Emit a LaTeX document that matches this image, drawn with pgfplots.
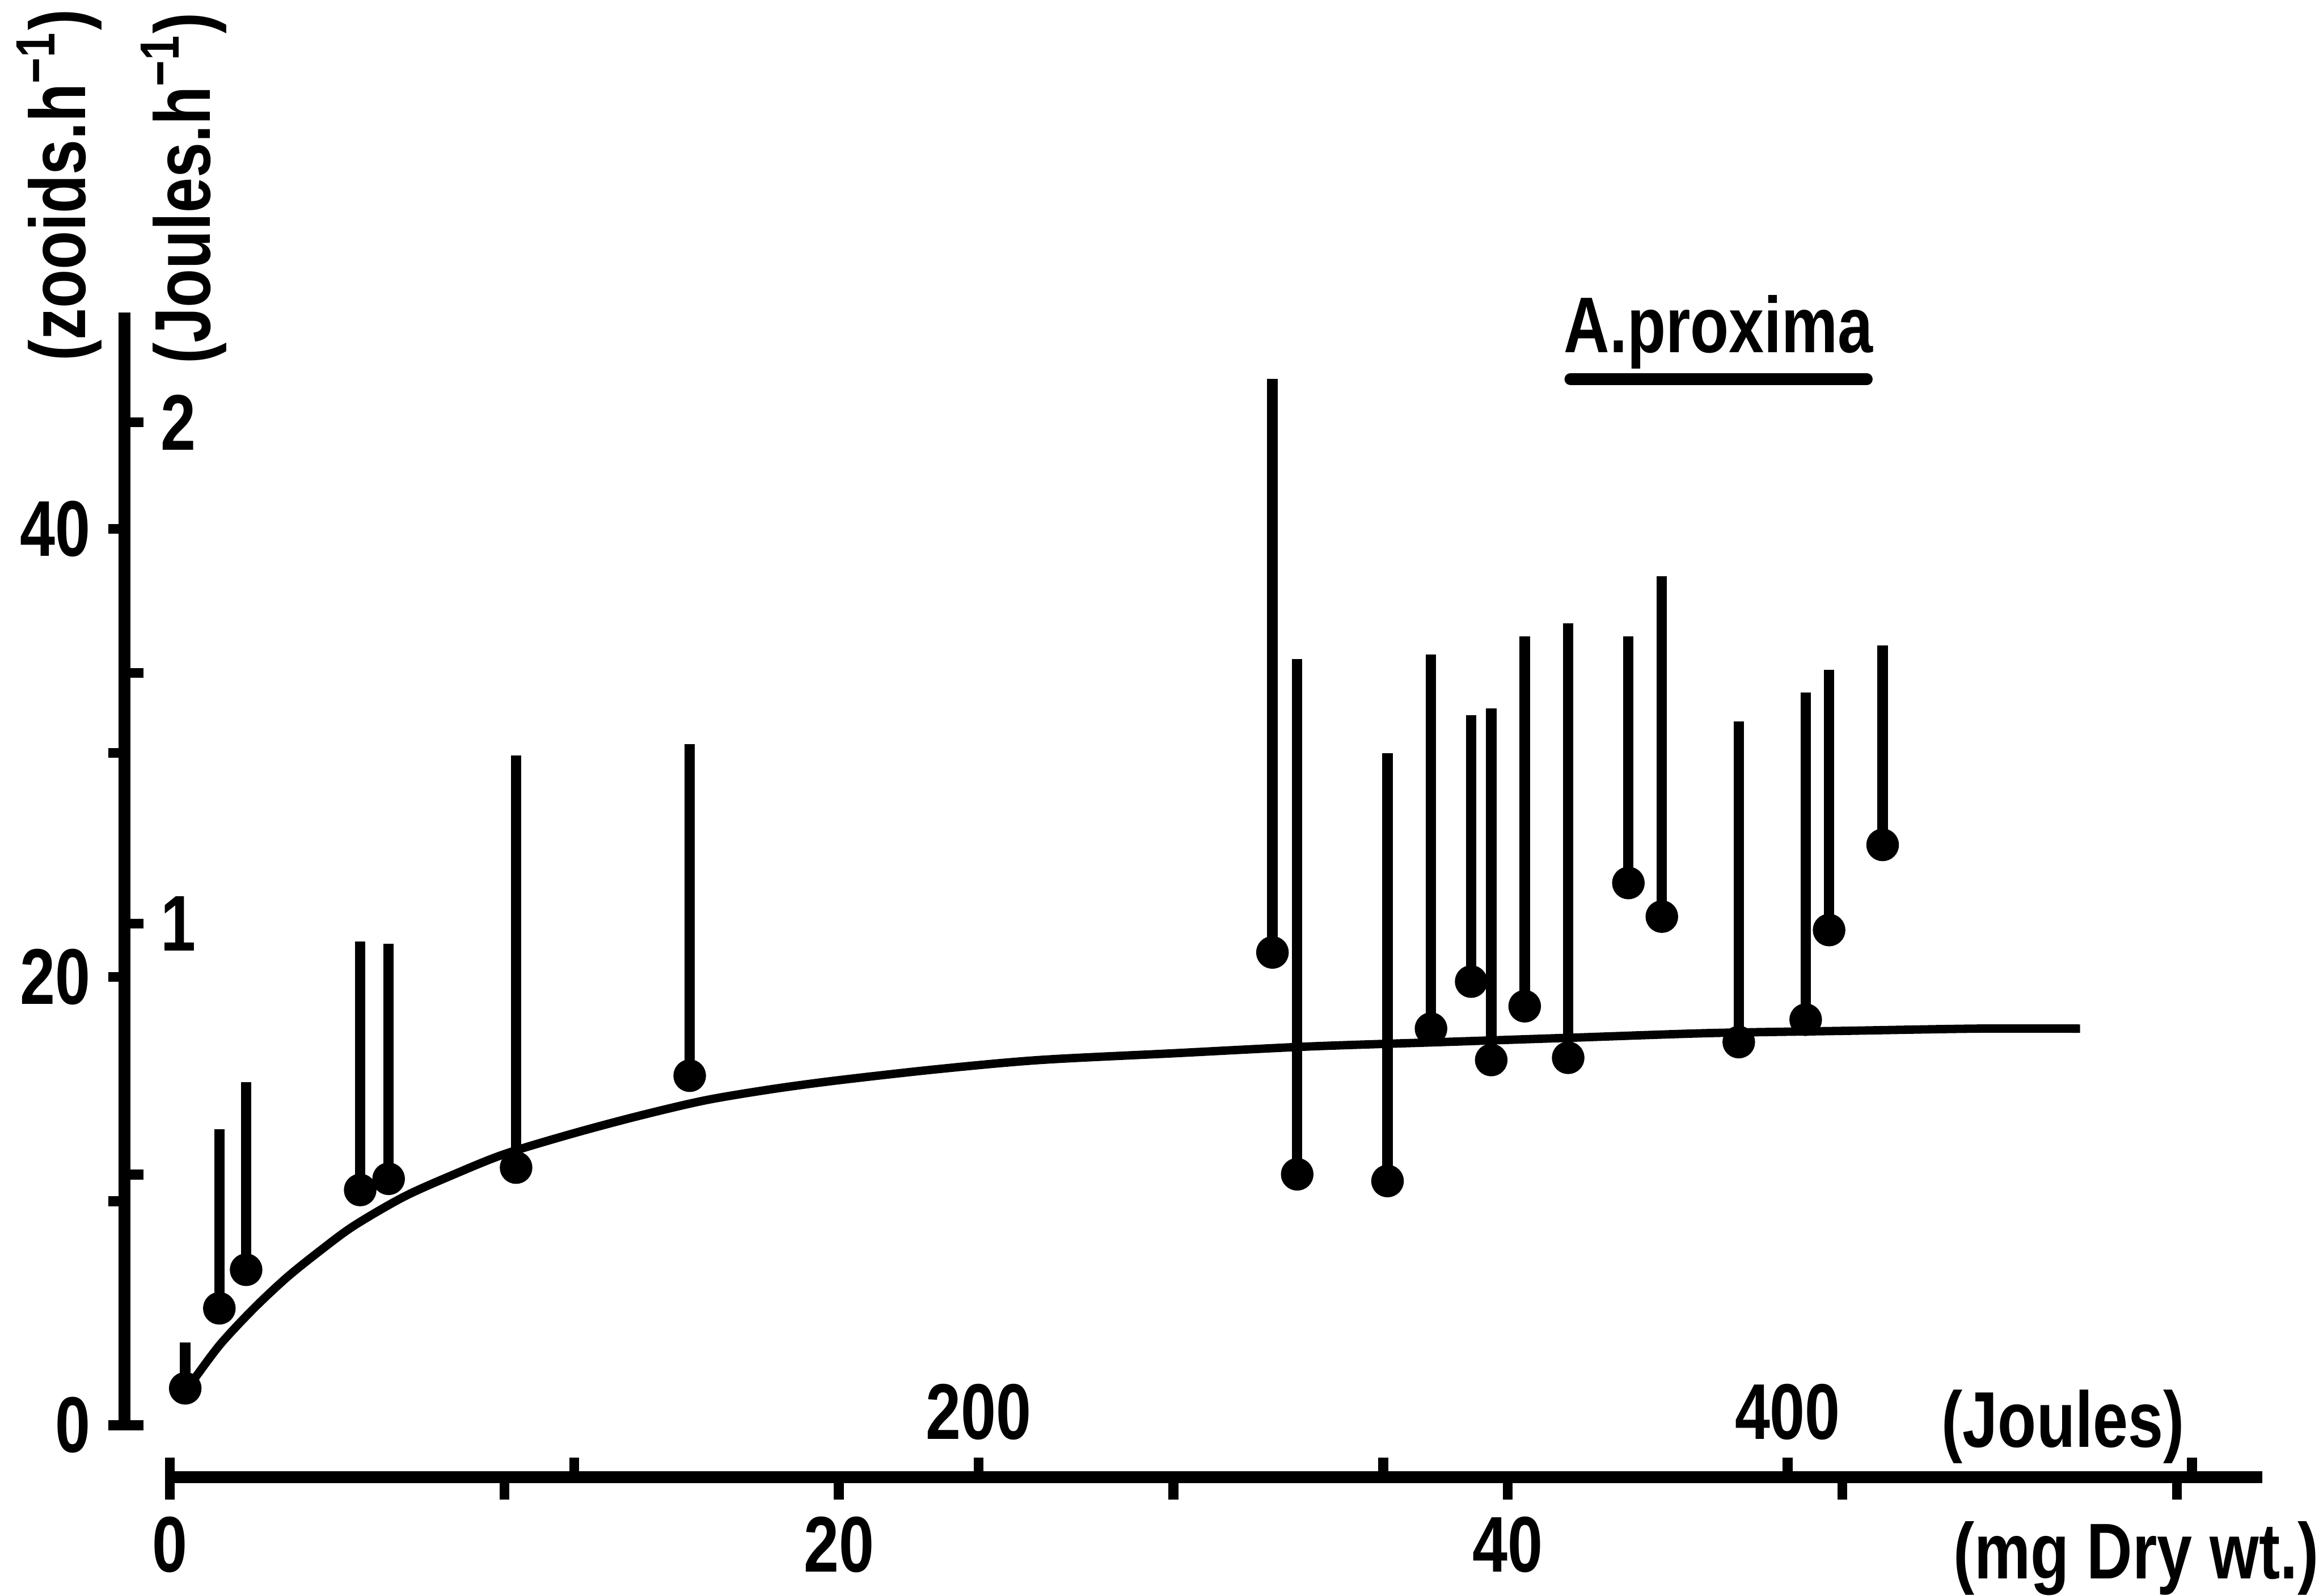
\documentclass[border=0pt]{standalone}
\usepackage{fontspec}
\setmainfont{Liberation Sans}[FakeStretch=0.8, UprightFont=*-Bold]
\usepackage{pgfplots}
\usepackage{pgfplotstable}
\pgfplotsset{compat=1.18}
\pgfplotstableread{
x lo hi
0.46 1.65 3.7
1.48 5.22 13.2
2.28 6.94 15.3
5.69 10.5 21.6
6.54 11.0 21.5
10.35 11.5 29.9
15.54 15.6 30.4
32.96 21.1 46.7
33.7 11.2 34.2
36.4 10.9 30.0
37.7 17.7 34.4
38.9 19.8 31.7
39.5 16.3 32.0
40.5 18.7 35.2
41.8 16.4 35.8
43.6 24.2 35.2
44.6 22.7 37.9
46.9 17.1 31.4
48.9 18.1 32.7
49.6 22.1 33.7
51.2 25.9 34.8
}\pts
\pgfplotsset{
  every axis/.append style={
    scale only axis, clip=false,
    /pgf/number format/assume math mode=true,
    ticklabel style={font=\fontsize{16}{18}\selectfont},
    axis line style={line width=2.4pt, black},
    tick style={line width=2pt, black},
  }
}
\begin{document}
\begin{tikzpicture}
\useasboundingbox (0pt,0pt) rectangle (470.4pt,-323.1pt);
% zooids axis + data
\begin{axis}[at={(25.2pt,-288.6pt)}, anchor=south west,
  x=6.774pt, y=4.5375pt, xmin=-1.357, xmax=62.5, ymin=0, ymax=49.65,
  axis x line=none, axis y line*=left,
  ytick={0,10,20,30,40}, yticklabels={0,,20,,40},
  ytick pos=left, yticklabel pos=left,
  tick align=outside, major tick length=3.3pt]
\addplot[black, line width=1.7pt, smooth, no marks] coordinates {
(0.7,2.0) (1.5,3.6) (2.5,5.2) (3.5,6.6) (4.5,7.8) (5.5,8.9) (7,10.2) (8.5,11.2)
(10,12.1) (12,13.0) (14,13.8) (16,14.5) (18,15.0) (20,15.4) (23,15.9) (26,16.3)
(30,16.6) (34,16.9) (38,17.1) (42,17.3) (46,17.5) (50,17.6) (54,17.7) (57.1,17.7)};
\addplot[black, only marks, mark=*, mark size=3.1pt,
  error bars/.cd, y dir=plus, y explicit, error mark=none,
  error bar style={line width=2.1pt, black}]
  table[x=x, y=lo, y error expr=\thisrow{hi}-\thisrow{lo}] {\pts};
\end{axis}
% Joules.h-1 axis
\begin{axis}[at={(25.2pt,-288.6pt)}, anchor=south east,
  x=1pt, xmin=0, xmax=1, y=101.55pt, ymin=0, ymax=2.2186,
  axis x line=none, axis y line*=right,
  ytick={0,0.5,1,1.5,2}, yticklabels={,,1,,2},
  ytick pos=right, yticklabel pos=right,
  tick align=outside, major tick length=3.8pt]
\end{axis}
% mg axis
\begin{axis}[at={(34.38pt,-299.1pt)}, anchor=south west,
  x=6.774pt, xmin=0, xmax=62.55, y=1pt, ymin=0, ymax=1,
  axis y line=none, axis x line*=bottom,
  xtick={0,10,20,30,40,50,60}, xticklabels={0,,20,,40,,},
  xtick pos=bottom, xticklabel pos=bottom,
  tick align=outside, major tick length=4.5pt]
\end{axis}
% Joules axis
\begin{axis}[at={(34.38pt,-299.1pt)}, anchor=north west,
  x=0.819pt, xmin=0, xmax=517.3, y=1pt, ymin=0, ymax=1,
  axis y line=none, axis x line*=top,
  xtick={0,100,200,300,400,500}, xticklabels={,,200,,400,},
  xtick pos=top, xticklabel pos=top,
  tick align=outside, major tick length=4pt]
\end{axis}
\begin{scope}[every node/.style={font=\fontsize{16}{18}\selectfont, inner sep=0pt}]
\node[rotate=90] at (12pt,-37.5pt) {(zooids.h\textsuperscript{−1})};
\node[rotate=90] at (37.2pt,-38.1pt) {(Joules.h\textsuperscript{−1})};
\node[anchor=base] at (348pt,-71.4pt) {A.proxima};
\draw[line width=2.4pt, line cap=round] (318pt,-76.8pt) -- (378pt,-76.8pt);
\node[anchor=west] at (393pt,-288.9pt) {(Joules)};
\node[anchor=west] at (395.4pt,-315.6pt) {(mg Dry wt.)};
\end{scope}
\end{tikzpicture}
\end{document}
